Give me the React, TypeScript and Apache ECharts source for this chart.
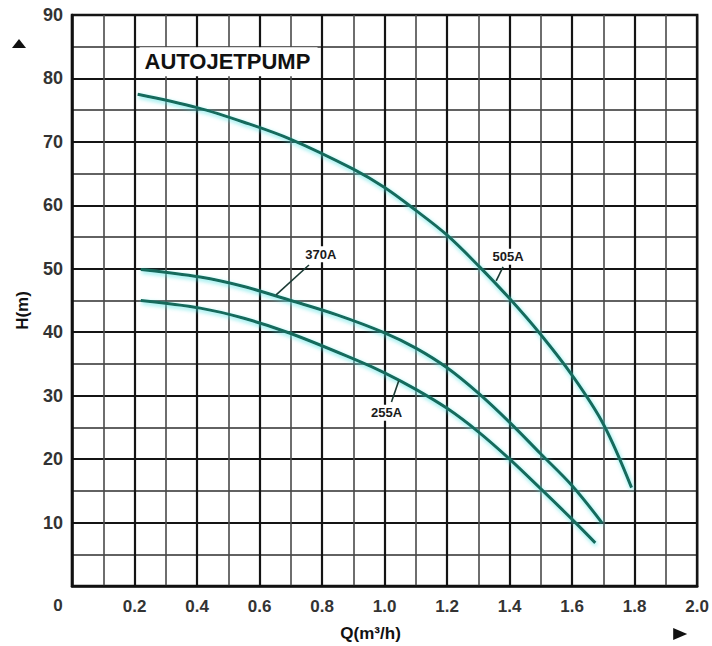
import React, { useEffect, useRef } from "react";
import * as echarts from "echarts";

// Pump performance curves: flow Q (m³/h) vs head H (m)
const q505 = [0.21, 0.4, 0.55, 0.7, 0.9, 1.0, 1.1, 1.2, 1.3, 1.4, 1.5, 1.6, 1.7, 1.79];
const h505 = [77.5, 75.4, 73.1, 70.4, 65.7, 62.8, 59.2, 55.3, 50.5, 45.3, 39.6, 33.2, 25.5, 15.5];

const q370 = [0.22, 0.41, 0.55, 0.7, 0.85, 1.0, 1.1, 1.2, 1.3, 1.4, 1.5, 1.6, 1.695];
const h370 = [49.9, 48.7, 47.2, 45.0, 42.7, 39.9, 37.5, 34.4, 30.4, 25.8, 20.8, 15.8, 10.0];

const q255 = [0.22, 0.41, 0.55, 0.7, 0.91, 1.0, 1.1, 1.2, 1.3, 1.4, 1.5, 1.6, 1.674];
const h255 = [45.0, 43.8, 42.2, 39.8, 35.6, 33.6, 31.0, 28.0, 24.3, 20.0, 15.3, 10.5, 6.8];

const seriesNames = ["505A", "370A", "255A"];

// Curve annotations: label centre and leader line (from curve to label), in data units
const labelAt: Record<string, number[]> = {
  "370A": [0.796, 52.3],
  "505A": [1.395, 51.9],
  "255A": [1.006, 27.3],
};
const leaderFrom: Record<string, number[]> = {
  "370A": [0.653, 45.9],
  "505A": [1.357, 48.1],
  "255A": [1.045, 32.3],
};
const leaderTo: Record<string, number[]> = {
  "370A": [0.758, 50.6],
  "505A": [1.379, 50.3],
  "255A": [1.022, 29.0],
};

const title = "AUTOJETPUMP";
const titleAt = [0.232, 82.7];

const FONT = "'Liberation Sans', Arial, Helvetica, sans-serif";

const zip = (xs: number[], ys: number[]) => xs.map((x, i) => [x, ys[i]]);

export default function App() {
  const ref = useRef<HTMLDivElement>(null);

  useEffect(() => {
    if (!ref.current) return;
    const chart = echarts.init(ref.current, null, { renderer: "svg" });

    const curveStyle = {
      color: "#166a5b",
      width: 3,
      shadowColor: "rgba(70,225,225,0.75)",
      shadowBlur: 4,
      shadowOffsetX: 1,
      shadowOffsetY: 2,
    };

    const data = [zip(q505, h505), zip(q370, h370), zip(q255, h255)];

    chart.setOption({
      animation: false,
      backgroundColor: "#ffffff",
      grid: {
        left: 72,
        right: 12,
        top: 15,
        bottom: 60,
        show: true,
        borderColor: "#111",
        borderWidth: 2.5,
      },
      xAxis: {
        type: "value",
        min: 0,
        max: 2,
        interval: 0.2,
        axisLine: { show: true, lineStyle: { color: "#111", width: 2.5 } },
        axisTick: { show: false },
        axisLabel: {
          margin: 12,
          color: "#333",
          fontFamily: FONT,
          fontWeight: "bold",
          fontSize: 17,
          formatter: (v: number) => (v === 0 ? "" : v.toFixed(1)),
        },
        splitLine: { show: true, lineStyle: { color: "#141414", width: 2.2 } },
        minorTick: { show: false, splitNumber: 2 },
        minorSplitLine: { show: true, lineStyle: { color: "#4a4a4a", width: 1.6 } },
      },
      yAxis: {
        type: "value",
        min: 0,
        max: 90,
        interval: 10,
        axisLine: { show: true, lineStyle: { color: "#111", width: 2.5 } },
        axisTick: { show: false },
        axisLabel: {
          margin: 9,
          color: "#333",
          fontFamily: FONT,
          fontWeight: "bold",
          fontSize: 18,
          formatter: (v: number) => (v === 0 ? "" : String(v)),
        },
        splitLine: { show: true, lineStyle: { color: "#141414", width: 2.2 } },
        minorTick: { show: false, splitNumber: 2 },
        minorSplitLine: { show: true, lineStyle: { color: "#2e2e2e", width: 1.7 } },
      },
      series: seriesNames.map((name, i) => ({
        name,
        type: "line",
        data: data[i],
        smooth: 0.35,
        showSymbol: false,
        symbol: "none",
        lineStyle: curveStyle,
        z: 5,
      })),
    });

    const px = (p: number[]) =>
      chart.convertToPixel({ xAxisIndex: 0, yAxisIndex: 0 }, p) as number[];

    const origin = px([0, 0]);
    const topLeft = px([0, 90]);
    const bottomRight = px([2, 0]);
    const tPos = px(titleAt);

    const graphics: any[] = [];

    // title box over the grid
    graphics.push({
      type: "rect",
      z: 50,
      shape: { x: tPos[0] - 5, y: tPos[1] - 14, width: 178, height: 29 },
      style: { fill: "#fff" },
    });
    graphics.push({
      type: "text",
      z: 51,
      x: tPos[0],
      y: tPos[1],
      style: {
        text: title,
        fill: "#111",
        font: `bold 22px ${FONT}`,
        align: "left",
        verticalAlign: "middle",
      },
    });

    // curve name labels with leader lines
    seriesNames.forEach((name) => {
      const c = px(labelAt[name]);
      const a = px(leaderFrom[name]);
      const b = px(leaderTo[name]);
      graphics.push({
        type: "rect",
        z: 50,
        shape: { x: c[0] - 21, y: c[1] - 8, width: 42, height: 16 },
        style: { fill: "#fff" },
      });
      graphics.push({
        type: "text",
        z: 51,
        x: c[0],
        y: c[1],
        style: {
          text: name,
          fill: "#1a1a1a",
          font: `bold 13px ${FONT}`,
          align: "center",
          verticalAlign: "middle",
        },
      });
      graphics.push({
        type: "line",
        z: 52,
        shape: { x1: a[0], y1: a[1], x2: b[0], y2: b[1] },
        style: { stroke: "#1a3a34", lineWidth: 1.6 },
      });
    });

    // shared origin label
    graphics.push({
      type: "text",
      x: origin[0] - 14,
      y: origin[1] + 19,
      style: {
        text: "0",
        fill: "#333",
        font: `bold 17px ${FONT}`,
        align: "center",
        verticalAlign: "middle",
      },
    });

    // axis titles
    graphics.push({
      type: "text",
      x: 22,
      y: (topLeft[1] + origin[1]) / 2 + 10,
      rotation: Math.PI / 2,
      style: {
        text: "H(m)",
        fill: "#111",
        font: `bold 17px ${FONT}`,
        align: "center",
        verticalAlign: "middle",
      },
    });
    graphics.push({
      type: "text",
      x: (origin[0] + bottomRight[0]) / 2 - 14,
      y: origin[1] + 47,
      style: {
        text: "Q(m³/h)",
        fill: "#111",
        font: `bold 17px ${FONT}`,
        align: "center",
        verticalAlign: "middle",
      },
    });

    // axis direction arrows
    graphics.push({
      type: "polygon",
      shape: {
        points: [
          [origin[0] - 60, topLeft[1] + 33],
          [origin[0] - 53, topLeft[1] + 24],
          [origin[0] - 46, topLeft[1] + 33],
        ],
      },
      style: { fill: "#111" },
    });
    graphics.push({
      type: "polygon",
      shape: {
        points: [
          [bottomRight[0] - 24, origin[1] + 42],
          [bottomRight[0] - 10, origin[1] + 48],
          [bottomRight[0] - 24, origin[1] + 54],
        ],
      },
      style: { fill: "#111" },
    });

    chart.setOption({ graphic: graphics });

    return () => chart.dispose();
  }, []);

  return (
    <div
      ref={ref}
      style={{ position: "fixed", left: 0, top: 0, width: 712, height: 646 }}
    />
  );
}
